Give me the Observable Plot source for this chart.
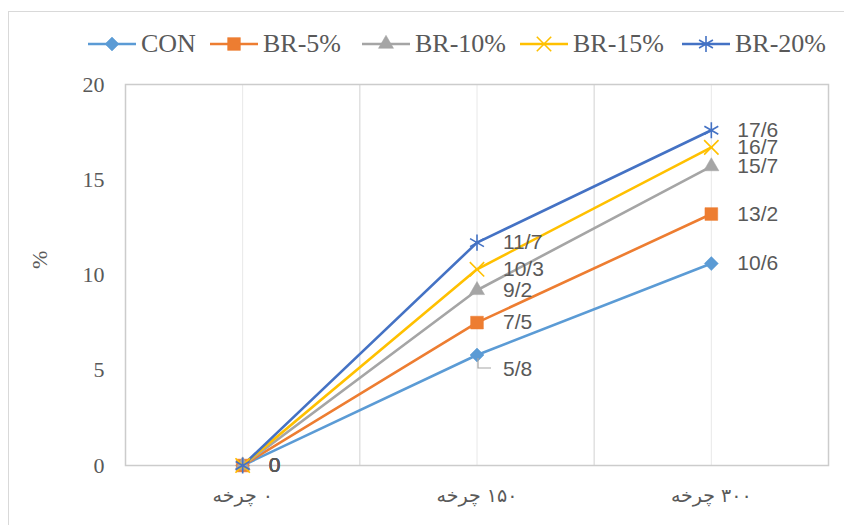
<!DOCTYPE html>
<html>
<head>
<meta charset="utf-8">
<script src="https://cdn.jsdelivr.net/npm/d3@7"></script>
<script src="https://cdn.jsdelivr.net/npm/@observablehq/plot@0.6"></script>
<style>
  body { margin: 0; background: #fff; }
  #chart { position: relative; width: 844px; height: 525px; overflow: hidden; }
  #border { position: absolute; left: 8px; top: 11px; width: 900px; height: 600px; border: 1.5px solid #d9d9d9; }
  #legend { position: relative; height: 70px; }
  .item { position: absolute; top: 30px; height: 28px; display: flex; align-items: center;
          font-family: "Liberation Serif", serif; font-size: 26px; color: #595959; white-space: nowrap; }
  .item svg { margin-right: 5px; }
  #plot { position: relative; }
</style>
</head>
<body>
<div id="chart">
  <div id="border"></div>
  <div id="legend"></div>
  <div id="plot"></div>
</div>
<script>
// Cycle categories (x axis)
const cycles = ["۰ چرخه", "۱۵۰ چرخه", "۳۰۰ چرخه"];

// Series names
const seriesNames = ["CON", "BR-5%", "BR-10%", "BR-15%", "BR-20%"];

// Values (%) per series at 0, 150 and 300 cycles
const CON   = [0, 5.8, 10.6];
const BR5   = [0, 7.5, 13.2];
const BR10  = [0, 9.2, 15.7];
const BR15  = [0, 10.3, 16.7];
const BR20  = [0, 11.7, 17.6];

const yTicks = [0, 5, 10, 15, 20];

const seriesValues = [CON, BR5, BR10, BR15, BR20];
const colors = ["#5b9bd5", "#ed7d31", "#a5a5a5", "#ffc000", "#4472c4"];
const symbols = ["diamond2", "square", "triangle", "times", "asterisk"];
const symbolR = [6.3, 7.2, 5.6, 6.6, 7.6];
const filled = [true, true, true, false, false];

const rows = seriesNames.flatMap((s, k) =>
  seriesValues[k].map((v, i) => ({series: s, k, i, v})));

// decimal separator drawn as "/"
const fmt = v => String(v).replace(".", "/");

// value labels: all beside their points, except CON at 150 cycles which sits lower with a leader
const isShifted = d => d.k === 0 && d.i === 1;

// small leader symbol: down then right from the point
const leader = {
  draw(ctx) {
    ctx.moveTo(1, 3);
    ctx.lineTo(1, 13);
    ctx.lineTo(14, 13);
  }
};

const chart = Plot.plot({
  width: 844,
  height: 455,
  marginTop: 14,
  marginBottom: 60,
  marginLeft: 125,
  marginRight: 16,
  style: {background: "none", color: "#595959", fontFamily: "Liberation Serif", fontSize: "21px"},
  x: {type: "linear", domain: [-0.5, 2.5]},
  y: {domain: [0, 20]},
  marks: [
    Plot.gridX([0, 1, 2], {stroke: "#e8e8e8", strokeOpacity: 1, strokeWidth: 1}),
    Plot.ruleX([0.5, 1.5], {stroke: "#d9d9d9", strokeWidth: 1.2}),
    Plot.frame({stroke: "#cccccc", strokeWidth: 1.5}),
    Plot.axisY({ticks: yTicks, tickSize: 0, tickPadding: 21, label: null,
                fontFamily: "Liberation Serif", fontSize: 22}),
    // right-to-left mark so the number sits to the right of the word
    Plot.axisX({ticks: [0, 1, 2], tickFormat: i => "\u200F" + cycles[i], tickSize: 0, tickPadding: 23, label: null,
                fontFamily: "DejaVu Sans", fontSize: 19}),
    Plot.text(["%"], {frameAnchor: "left", dx: -86, dy: -6, rotate: -90,
                      fontFamily: "Liberation Serif", fontSize: 22, fill: "#595959"}),
    ...seriesNames.map((s, k) => Plot.line(rows.filter(d => d.k === k), {
      x: "i", y: "v", stroke: colors[k], strokeWidth: 2.6
    })),
    ...seriesNames.map((s, k) => Plot.dot(rows.filter(d => d.k === k), {
      x: "i", y: "v", symbol: symbols[k], r: symbolR[k],
      fill: filled[k] ? colors[k] : "none", stroke: colors[k], strokeWidth: filled[k] ? 0.5 : 1.6
    })),
    Plot.text(rows.filter(d => !isShifted(d)), {
      x: "i", y: "v", text: d => fmt(d.v), dx: 26, textAnchor: "start",
      fontFamily: "Liberation Sans", fontSize: 21, fill: "#595959"
    }),
    Plot.text(rows.filter(isShifted), {
      x: "i", y: "v", text: d => fmt(d.v), dx: 26, dy: 14, textAnchor: "start",
      fontFamily: "Liberation Sans", fontSize: 21, fill: "#595959"
    }),
    Plot.dot(rows.filter(isShifted), {
      x: "i", y: "v", symbol: leader, fill: "none", stroke: "#a6a6a6", strokeWidth: 1.2
    })
  ]
});
document.getElementById("plot").appendChild(chart);

// legend
const legendLeft = [88, 210, 362, 520, 682];
const legend = d3.select("#legend");
seriesNames.forEach((s, k) => {
  const item = legend.append("div").attr("class", "item").style("left", legendLeft[k] + "px");
  const svg = item.append("svg").attr("width", 48).attr("height", 24);
  svg.append("line").attr("x1", 0).attr("x2", 48).attr("y1", 12).attr("y2", 12)
    .attr("stroke", colors[k]).attr("stroke-width", 2.6);
  const sym = {diamond2: d3.symbolDiamond2, square: d3.symbolSquare, triangle: d3.symbolTriangle,
               times: d3.symbolTimes, asterisk: d3.symbolAsterisk}[symbols[k]];
  svg.append("path").attr("transform", "translate(24,12)")
    .attr("d", d3.symbol(sym, Math.PI * symbolR[k] * symbolR[k])())
    .attr("fill", filled[k] ? colors[k] : "none").attr("stroke", colors[k])
    .attr("stroke-width", filled[k] ? 0.5 : 1.6);
  item.append("span").text(s);
});
</script>
</body>
</html>
